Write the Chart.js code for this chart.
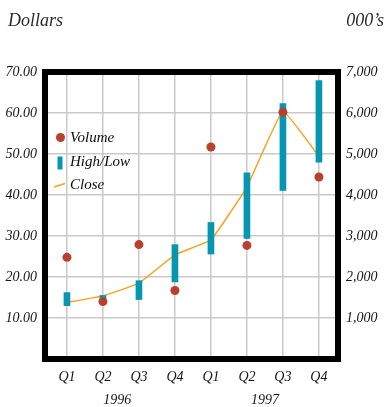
<!DOCTYPE html>
<html>
<head>
<meta charset="utf-8">
<script src="https://cdn.jsdelivr.net/npm/chart.js@4.4.1/dist/chart.umd.min.js"></script>
<style>
  html, body { margin: 0; padding: 0; background: #fff; }
  canvas { display: block; }
</style>
</head>
<body>
<canvas id="myChart" width="386" height="407"></canvas>
<script>
// --- DATA ---
const quarters = ['Q1', 'Q2', 'Q3', 'Q4', 'Q1', 'Q2', 'Q3', 'Q4'];
const years = [{ label: '1996', at: 1.4 }, { label: '1997', at: 5.5 }];
const highs = [16.2, 15.5, 19.1, 27.9, 33.3, 45.4, 62.3, 67.9];
const lows = [13.0, 14.3, 14.5, 18.8, 25.6, 29.4, 41.1, 48.0];
const closes = [13.8, 15.4, 18.5, 25.4, 29.1, 42.0, 60.4, 49.4];
const volumes = [2480, 1400, 2790, 1670, 5170, 2770, 6020, 4440];

const serif = 'Liberation Serif';
const textColor = '#161616';
const teal = '#0696b0';
const rust = '#b8412b';
const orange = '#f5a31c';

// titles, frame, year labels and legend
const extras = {
    id: 'extras',
    afterDraw(chart) {
        const ctx = chart.ctx;
        const area = chart.chartArea;
        const x = chart.scales.x;

        ctx.save();
        ctx.strokeStyle = '#000';
        ctx.lineWidth = 6;
        ctx.strokeRect(area.left, area.top, area.right - area.left, area.bottom - area.top);

        ctx.fillStyle = '#2b2b2b';
        ctx.textBaseline = 'alphabetic';
        ctx.font = 'italic 18px "' + serif + '"';
        ctx.textAlign = 'left';
        ctx.fillText('Dollars', 8, 26);
        ctx.textAlign = 'right';
        ctx.fillText('000\u2019s', 384, 26);

        ctx.fillStyle = textColor;
        ctx.font = 'italic 14px "' + serif + '"';
        ctx.textAlign = 'center';
        years.forEach(y => ctx.fillText(y.label, x.getPixelForValue(y.at), 404));

        // legend
        ctx.fillStyle = rust;
        ctx.beginPath();
        ctx.arc(60.5, 137.5, 4.5, 0, Math.PI * 2);
        ctx.fill();
        ctx.fillStyle = teal;
        ctx.fillRect(57.5, 156.5, 5, 13);
        ctx.strokeStyle = orange;
        ctx.lineWidth = 1.5;
        ctx.beginPath();
        ctx.moveTo(54, 187);
        ctx.lineTo(65, 183.5);
        ctx.stroke();

        ctx.fillStyle = '#0a0a0a';
        ctx.font = 'italic 15px "' + serif + '"';
        ctx.textAlign = 'left';
        ctx.textBaseline = 'middle';
        ctx.fillText('Volume', 70, 138);
        ctx.fillText('High/Low', 70, 162);
        ctx.fillText('Close', 70, 185);
        ctx.restore();
    }
};

const chartCanvas = document.getElementById('myChart');
new Chart(chartCanvas.getContext('2d'), {
    type: 'bar',
    data: {
        datasets: [
            {
                type: 'line',
                label: 'Volume',
                data: volumes.map((v, i) => ({ x: i, y: v })),
                yAxisID: 'y1',
                showLine: false,
                pointRadius: 4.5,
                pointBackgroundColor: rust,
                pointBorderWidth: 0,
                order: 0
            },
            {
                type: 'bar',
                label: 'High/Low',
                data: highs.map((h, i) => ({ x: i, y: [lows[i], h] })),
                yAxisID: 'y',
                backgroundColor: teal,
                barThickness: 6,
                borderWidth: 0,
                order: 1
            },
            {
                type: 'line',
                label: 'Close',
                data: closes.map((c, i) => ({ x: i, y: c })),
                yAxisID: 'y',
                borderColor: orange,
                borderWidth: 1.5,
                pointRadius: 0,
                tension: 0.1,
                order: 2
            }
        ]
    },
    options: {
        responsive: false,
        animation: false,
        layout: { padding: { top: 72 } },
        plugins: {
            legend: { display: false },
            tooltip: { enabled: false }
        },
        scales: {
            x: {
                type: 'linear',
                min: -0.61,
                max: 7.53,
                offset: false,
                afterBuildTicks: scale => { scale.ticks = quarters.map((_, i) => ({ value: i })); },
                afterFit: scale => { scale.height = 48; },
                grid: { color: '#c9c9c9', lineWidth: 1.5, drawTicks: false, offset: false },
                border: { display: false },
                ticks: {
                    padding: 10,
                    color: textColor,
                    font: { family: serif, size: 14, style: 'italic' },
                    callback: v => quarters[v] || ''
                }
            },
            y: {
                position: 'left',
                min: 0,
                max: 70,
                afterFit: scale => { scale.width = 45; },
                grid: { color: '#c9c9c9', lineWidth: 1.5, drawTicks: false },
                border: { display: false },
                ticks: {
                    stepSize: 10,
                    padding: 8,
                    color: textColor,
                    font: { family: serif, size: 14, style: 'italic' },
                    callback: v => v === 0 ? '' : v.toFixed(2)
                }
            },
            y1: {
                position: 'right',
                min: 0,
                max: 7000,
                afterFit: scale => { scale.width = 48; },
                grid: { display: false, drawTicks: false },
                border: { display: false },
                ticks: {
                    stepSize: 1000,
                    padding: 8,
                    color: textColor,
                    font: { family: serif, size: 14, style: 'italic' },
                    callback: v => v === 0 ? '' : v.toLocaleString('en-US')
                }
            }
        }
    },
    plugins: [extras]
});
</script>
</body>
</html>
